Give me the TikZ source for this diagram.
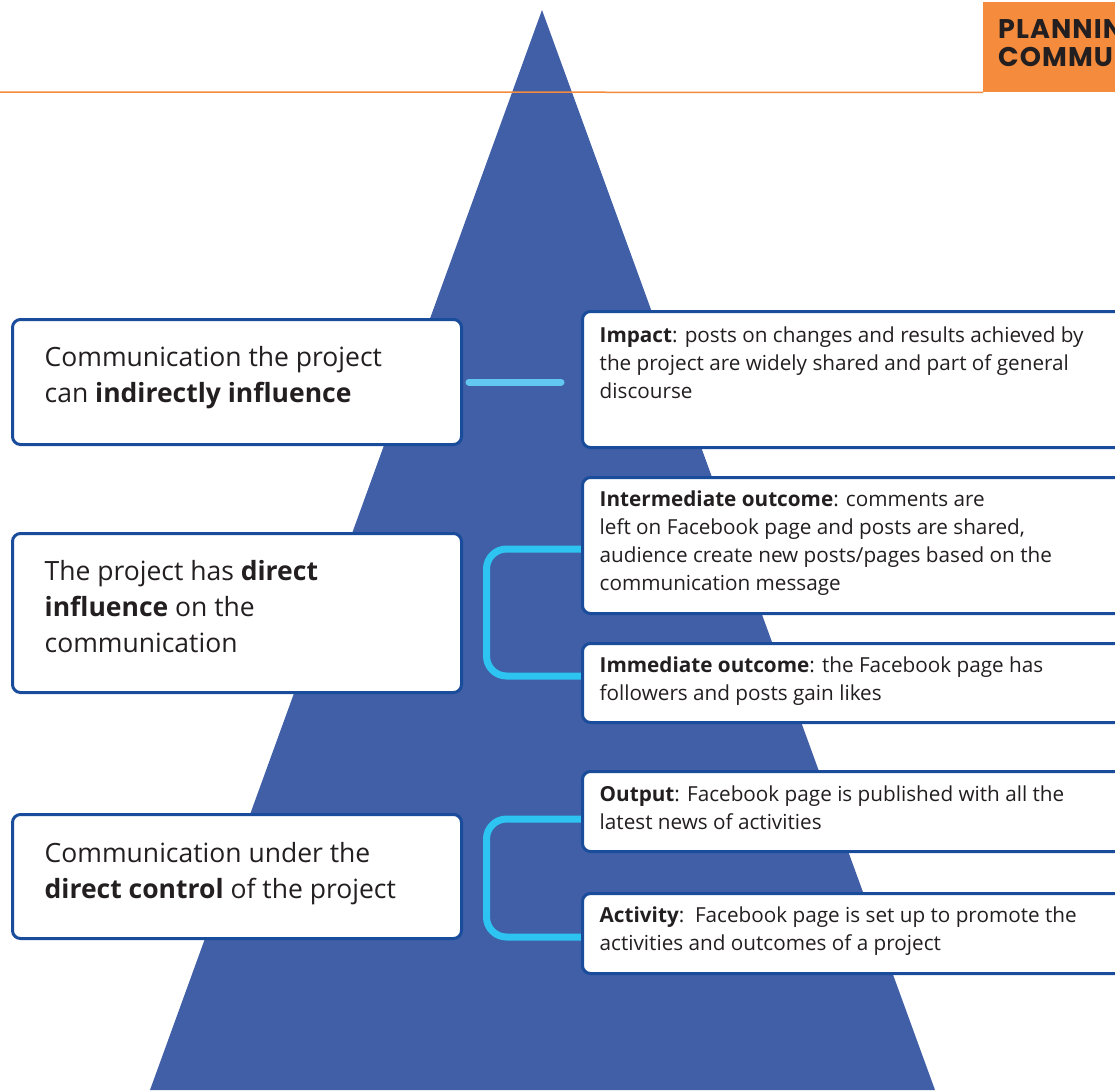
\documentclass[tikz,border=0pt]{standalone}
\usepackage{fontspec}
\setmainfont{Open Sans}
\newfontfamily\headfont{Poppins}[LetterSpace=4]
\usetikzlibrary{backgrounds}

\definecolor{pyramid}{HTML}{405FA6}
\definecolor{frameblue}{HTML}{1A4C9C}
\definecolor{linkblue}{HTML}{2EC4F2}
\definecolor{linkpale}{HTML}{62C8F2}
\definecolor{accent}{HTML}{F58B3C}
\definecolor{ink}{HTML}{231F20}

\begin{document}
\begin{tikzpicture}[x=1pt,y=-1pt,
  card/.style={draw=frameblue, line width=3pt, fill=white, rounded corners=8pt, inner sep=0pt},
  leftcard/.style={card, minimum width=449pt},
  rightcard/.style={card, minimum width=600pt},
  % text blocks hang from the top of a 1em strut, so the node's north edge
  % sits exactly 1em above the first baseline
  textblock/.style={anchor=north west, align=left, inner sep=0pt, text=ink,
    execute at begin node={\rule{0pt}{1em}}},
  bigtext/.style={textblock, font=\fontsize{26.5}{36}\selectfont},
  smalltext/.style={textblock, font=\fontsize{20.7}{28}\selectfont},
  headtext/.style={textblock, font=\headfont\bfseries\fontsize{27}{28}\selectfont},
  link/.style={line width=7pt},
]
\useasboundingbox (0,0) rectangle (1115,1090);
\clip (0,0) rectangle (1115,1090);

% header banner and rule
\node[fill=accent, anchor=north west, minimum width=160pt, minimum height=90pt, inner sep=0pt] (banner) at (983,2) {};
\node[headtext] (bannertext) at (998,{46-27}) {PLANNING\\COMMUNICATION};
\draw[accent, line width=1.5pt] (0,92) -- (banner.south west);

% left column: levels of influence
\node[leftcard, minimum height=125pt] (lc1) at (237,382) {};
\node[leftcard, minimum height=159pt] (lc2) at (237,613) {};
\node[leftcard, minimum height=124pt] (lc3) at (237,876.5) {};

\node[bigtext] (lt1) at (44.5,{373-26.5}) {Communication the project\\can \textbf{indirectly influence}};
\node[bigtext] (lt2) at (44.5,{587-26.5}) {The project has \textbf{direct}\\\textbf{influence} on the\\communication};
\node[bigtext] (lt3) at (44.5,{869-26.5}) {Communication under the\\\textbf{direct control} of the project};

% right column: results chain
\node[rightcard, minimum height=136pt] (impact) at (882.5,379.5) {};
\node[rightcard, minimum height=136pt] (inter) at (882.5,545.5) {};
\node[rightcard, minimum height=79pt] (immed) at (882.5,683) {};
\node[rightcard, minimum height=80pt] (output) at (882.5,811.5) {};
\node[rightcard, minimum height=80pt] (activ) at (882.5,933.5) {};

\node[smalltext] (impactT) at (599.5,{347-20.7}) {\textbf{Impact}: posts on changes and results achieved by\\the project are widely shared and part of general\\discourse};
\node[smalltext] (interT) at (599.5,{511-20.7}) {\textbf{Intermediate outcome}: comments are\\left on Facebook page and posts are shared,\\audience create new posts/pages based on the\\communication message};
\node[smalltext] (immedT) at (599.5,{677-20.7}) {\textbf{Immediate outcome}: the Facebook page has\\followers and posts gain likes};
\node[smalltext] (outputT) at (599.5,{806-20.7}) {\textbf{Output}: Facebook page is published with all the\\latest news of activities};
\node[smalltext] (activT) at (599.5,{927-20.7}) {\textbf{Activity}:\ \ Facebook page is set up to promote the\\activities and outcomes of a project};

\begin{pgfonlayer}{background}
  \fill[pyramid] (542,10) -- (935,1090) -- (150,1090) -- cycle;
  \draw[link, linkpale, line cap=round] ([xshift=6pt]lc1.east) -- ([xshift=-20pt]impact.west |- lc1.east);
  \draw[link, linkblue, rounded corners=20pt] ([yshift=-3.5pt]inter.west) -- ++(-94.5,0) |- ([yshift=7pt]immed.west);
  \draw[link, linkblue, rounded corners=20pt] ([yshift=-7.5pt]output.west) -- ++(-94.5,0) |- ([yshift=-3.5pt]activ.west);
\end{pgfonlayer}
\end{tikzpicture}
\end{document}
